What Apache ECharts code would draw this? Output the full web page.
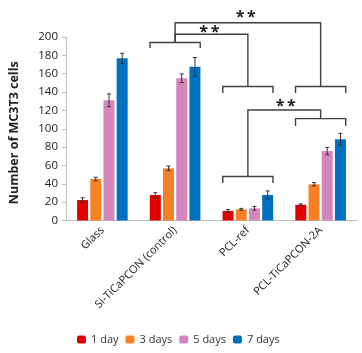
<!DOCTYPE html>
<html>
<head>
<meta charset="utf-8">
<script src="https://cdn.jsdelivr.net/npm/echarts@6/dist/echarts.min.js"></script>
<style>html,body{margin:0;padding:0;background:#fff}#main{width:362px;height:353px}</style>
</head>
<body>
<div id="main"></div>
<script>
// 数据
var categories = ['Glass', 'Si-TiCaPCON (control)', 'PCL-ref', 'PCL-TiCaPCON-2A'];
var seriesNames = ['1 day', '3 days', '5 days', '7 days'];
var day1 = [22.3, 27.8, 10.4, 17.2];
var day3 = [45.2, 56.9, 12.2, 39.5];
var day5 = [131, 155, 13.3, 75.7];
var day7 = [176.8, 167.6, 27.8, 88.5];
var err1 = [2.5, 2.5, 1.5, 1];
var err3 = [2, 2.5, 1, 1.8];
var err5 = [7, 4.7, 2, 4];
var err7 = [5.5, 10, 4.4, 6.5];
var yTicks = [0, 200, 20];
// brackets over groups: category, top value, leg value
var caps = [[1, 194, 188], [2, 146, 139], [3, 146, 139], [2, 48, 41], [3, 111, 103]];
// links: from cat, from value, to cat, to value, level, star cat pos, star value
var links = [
  [1, 194, 2, 146, 203, 1.47, 205],
  [1, 194, 3, 146, 215.6, 1.97, 221.5],
  [2, 48, 3, 111, 120.4, 2.52, 124]
];

var colors = ['#e10000', '#f58025', '#d586bd', '#0070c0'];
var values = [day1, day3, day5, day7];
var errs = [err1, err3, err5, err7];
var barW = 11, barGapPx = 2.2;
var font = '"Open Sans", sans-serif';

var chart = echarts.init(document.getElementById('main'));

var series = [];
values.forEach(function (v, i) {
  series.push({
    name: seriesNames[i], type: 'bar', data: v,
    barWidth: barW, barGap: '20%',
    itemStyle: { color: colors[i] }
  });
});

// 误差线
var errData = [];
values.forEach(function (v, s) {
  v.forEach(function (val, c) { errData.push([c, s, val - errs[s][c], val + errs[s][c]]); });
});
series.push({
  type: 'custom', silent: true, z: 5,
  data: errData,
  renderItem: function (params, api) {
    var c = api.value(0), s = api.value(1);
    var off = -(4 * barW + 3 * barGapPx) / 2 + barW / 2 + s * (barW + barGapPx);
    var lo = api.coord([c, api.value(2)]), hi = api.coord([c, api.value(3)]);
    var x = lo[0] + off;
    var st = { stroke: '#333', lineWidth: 1 };
    return { type: 'group', children: [
      { type: 'line', shape: { x1: x, y1: lo[1], x2: x, y2: hi[1] }, style: st },
      { type: 'line', shape: { x1: x - 2, y1: lo[1], x2: x + 2, y2: lo[1] }, style: st },
      { type: 'line', shape: { x1: x - 2, y1: hi[1], x2: x + 2, y2: hi[1] }, style: st }
    ]};
  }
});

// 显著性括号
series.push({
  type: 'custom', silent: true, clip: false, z: 6,
  data: [0],
  renderItem: function (params, api) {
    var cw = api.size([1, 0])[0];
    var st = { stroke: '#404040', lineWidth: 1.4, fill: null };
    var kids = [];
    caps.forEach(function (b) {
      var p = api.coord([b[0], b[1]]), q = api.coord([b[0], b[2]]);
      var h = 0.345 * cw;
      kids.push({ type: 'polyline', shape: { points: [[p[0] - h, q[1]], [p[0] - h, p[1]], [p[0] + h, p[1]], [p[0] + h, q[1]]] }, style: st });
    });
    links.forEach(function (l) {
      var a = api.coord([l[0], l[1]]), b = api.coord([l[2], l[3]]);
      var lv = api.coord([l[0], l[4]])[1];
      kids.push({ type: 'polyline', shape: { points: [[a[0], a[1]], [a[0], lv], [b[0], lv], [b[0], b[1]]] }, style: st });
      var sc = api.coord([Math.floor(l[5]), l[6]]);
      kids.push({ type: 'text', style: {
        x: sc[0] + (l[5] - Math.floor(l[5])) * cw, y: sc[1], text: '*\u2009*',
        font: 'bold 16px ' + font, fill: '#222', align: 'center', verticalAlign: 'middle'
      }});
    });
    return { type: 'group', children: kids };
  }
});

var option = {
  animation: false,
  textStyle: { fontFamily: font },
  grid: { left: 65, right: 5, top: 37, bottom: 132.5 },
  legend: {
    data: seriesNames, left: 72, top: 329,
    itemWidth: 9, itemHeight: 8, itemGap: 7,
    textStyle: { fontSize: 11, color: '#333', fontFamily: font }
  },
  xAxis: {
    type: 'category', data: categories,
    axisLine: { lineStyle: { color: '#bfbfbf' } },
    axisTick: { show: false },
    axisLabel: { rotate: 45, fontSize: 11, color: '#222', margin: 8, interval: 0, fontFamily: font }
  },
  yAxis: {
    type: 'value', min: yTicks[0], max: yTicks[1], interval: yTicks[2],
    name: 'Number of MC3T3 cells', nameLocation: 'middle', nameGap: 45,
    nameTextStyle: { fontSize: 12.5, fontWeight: 'bold', color: '#222', fontFamily: font, padding: [0, 8, 0, 0] },
    axisLine: { show: true, lineStyle: { color: '#bfbfbf' } },
    axisTick: { show: true, length: 4, lineStyle: { color: '#bfbfbf' } },
    splitLine: { show: false },
    axisLabel: { fontSize: 11.5, color: '#222', margin: 8, fontFamily: font }
  },
  series: series
};
chart.setOption(option);
window.onresize = function () { chart.resize(); };
</script>
</body>
</html>
